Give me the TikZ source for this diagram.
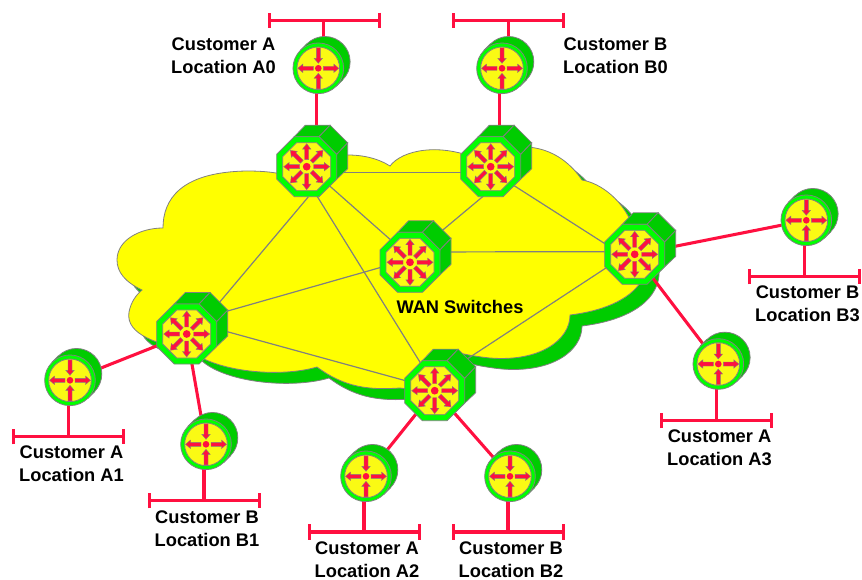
\documentclass[tikz,border=0pt]{standalone}
\usepackage{fontspec}
\setmainfont{Liberation Sans}
\usetikzlibrary{arrows.meta}
\definecolor{wanyellow}{HTML}{FFFF00}
\definecolor{padyellow}{HTML}{FAFA14}
\definecolor{bodygreen}{HTML}{00CC00}
\definecolor{ringgreen}{HTML}{00FF00}
\definecolor{linkred}{HTML}{FF1040}
\definecolor{edgegray}{HTML}{808080}
\newcommand{\cloudoutline}{
  (163,228) .. controls (163,200) and (180,172) .. (247,171)
  .. controls (262,171) and (275,172) .. (290,176)
  .. controls (320,150) and (365,150) .. (390,166)
  .. controls (402,150) and (440,142) .. (480,160)
  .. controls (510,140) and (555,140) .. (582,180)
  .. controls (600,183) and (625,200) .. (635,232)
  .. controls (660,260) and (650,305) .. (570,315)
  .. controls (570,340) and (540,362) .. (490,358)
  .. controls (470,356) and (455,352) .. (445,350)
  .. controls (445,375) and (420,392) .. (400,388)
  .. controls (370,390) and (345,388) .. (317,367)
  .. controls (280,378) and (215,372) .. (190,350)
  .. controls (160,345) and (125,335) .. (129,312)
  .. controls (131,302) and (136,295) .. (142,290)
  .. controls (125,282) and (117,272) .. (117,260)
  .. controls (117,240) and (140,228) .. (163,228) -- cycle}
\newcommand{\outarrow}[1]{\filldraw[glyph,rotate=#1] (7,-2) -- (17.5,-2) -- (17.5,-4.2) -- (23,0) -- (17.5,4.2) -- (17.5,2) -- (7,2) -- cycle;}
\newcommand{\smalloutarrow}[1]{\filldraw[glyph,rotate=#1] (5,-2) -- (15.5,-2) -- (15.5,-4.2) -- (20.5,0) -- (15.5,4.2) -- (15.5,2) -- (5,2) -- cycle;}
\newcommand{\smallinarrow}[1]{\filldraw[glyph,rotate=#1] (20.5,-2) -- (10,-2) -- (10,-4.2) -- (5,0) -- (10,4.2) -- (10,2) -- (20.5,2) -- cycle;}
\begin{document}
\begin{tikzpicture}[
            x=0.75pt, y=-0.75pt,
            hub/.style={
                circle,
                draw=none,
                inner sep=0pt,
                minimum size=45pt
            },
            site/.style={
                circle,
                draw=none,
                inner sep=0pt,
                minimum size=38pt
            },
            label/.style={
                align=center,
                inner sep=0pt,
                font=\fontsize{13.7}{17.25}\selectfont\bfseries
            },
            mesh/.style={draw=edgegray, line width=0.9pt},
            access/.style={draw=linkred, line width=2.3pt},
            busbar/.style={draw=linkred, line width=2.3pt, {Bar[width=11.5pt,line width=2pt]}-{Bar[width=11.5pt,line width=2pt]}},
            face/.style={fill=bodygreen, draw=edgegray, line width=0.6pt},
            glyph/.style={fill=linkred, draw=edgegray, line width=0.3pt},
            pics/wanswitch/.style={code={
                % extruded faces
                \filldraw[face] (-12.4,-30) -- (-1.4,-41.5) -- (23.4,-41.5) -- (12.4,-30) -- cycle;
                \filldraw[face] (12.4,-30) -- (23.4,-41.5) -- (41,-23.9) -- (30,-12.4) -- cycle;
                \filldraw[face] (30,-12.4) -- (41,-23.9) -- (41,2) -- (22,20) -- cycle;
                % front plate
                \filldraw[fill=ringgreen, draw=edgegray, line width=0.6pt] (-12.4,-30) -- (12.4,-30) -- (30,-12.4) -- (30,12.4) -- (12.4,30) -- (-12.4,30) -- (-30,12.4) -- (-30,-12.4) -- cycle;
                \filldraw[fill=padyellow, draw=edgegray, line width=0.6pt] (-10,-24) -- (10,-24) -- (24,-10) -- (24,10) -- (10,24) -- (-10,24) -- (-24,10) -- (-24,-10) -- cycle;
                % arrows
                \outarrow{0} \outarrow{45} \outarrow{90} \outarrow{135}
                \outarrow{180} \outarrow{225} \outarrow{270} \outarrow{315}
                \fill[linkred] (0,0) circle (2.9pt);
            }},
            pics/custrouter/.style={code={
                % cylinder body
                \filldraw[face] (6.5,-6.5) circle (19pt);
                \fill[bodygreen] (-18,-18) -- (-11.5,-24.5) -- (24.5,11.5) -- (18,18) -- cycle;
                \draw[edgegray, line width=0.6pt] (-18,-18) -- (-11.5,-24.5) (24.5,11.5) -- (18,18);
                % front plate
                \filldraw[fill=ringgreen, draw=edgegray, line width=0.6pt] (0,0) circle (19pt);
                \filldraw[fill=padyellow, draw=edgegray, line width=0.6pt] (0,0) circle (16pt);
                % arrows
                \smalloutarrow{0} \smalloutarrow{180}
                \smallinarrow{90} \smallinarrow{270}
                \fill[linkred] (0,0) circle (2.5pt);
            }}
        ]
        \useasboundingbox (0,0) rectangle (862,580);

        % Cloud with its shadow
        \filldraw[fill=bodygreen, draw=edgegray, line width=0.6pt, shift={(12,11)}] \cloudoutline;
        \filldraw[fill=wanyellow, draw=edgegray, line width=0.6pt] \cloudoutline;

        % WAN switch anchors
        \node[hub] (s1) at (306.7,166.7) {};
        \node[hub] (s2) at (490.7,166.7) {};
        \node[hub] (s3) at (410,262.3) {};
        \node[hub] (s4) at (634.7,254.3) {};
        \node[hub] (s5) at (186.7,334) {};
        \node[hub] (s6) at (434.7,390.7) {};

        % Customer router anchors
        \node[site] (a0) at (318.3,68.3) {};
        \node[site] (b0) at (502,68.3) {};
        \node[site] (a1) at (70,380.3) {};
        \node[site] (b1) at (206,444.3) {};
        \node[site] (a2) at (366,476.3) {};
        \node[site] (b2) at (510,476.3) {};
        \node[site] (a3) at (718.3,364) {};
        \node[site] (b3) at (806.3,220.3) {};

        % Mesh between the switches
        \draw[mesh] (s1.-11.5) -- (s2.191.5);
        \draw[mesh] (s1.-87.5) -- (s5.41);
        \draw[mesh] (s1.-71) -- (s6.117);
        \draw[mesh] (s1.-40) -- (s3.131);
        \draw[mesh] (s2.-104) -- (s3.47);
        \draw[mesh] (s2.-39) -- (s4.161.5);
        \draw[mesh] (s3.20) -- (s4.175.6);
        \draw[mesh] (s3.190.8) -- (s5.37);
        \draw[mesh] (s4.205.6) -- (s6.50.6);
        \draw[mesh] (s5.10) -- (s6.161);

        % Access links
        \draw[access] ([xshift=-1.7pt]a0.center) -- ([xshift=-1.7pt]a0.center |- s1.north);
        \draw[access] ([xshift=-1.7pt]b0.center) -- ([xshift=-1.7pt]b0.center |- s2.north);
        \draw[access] (s5) -- (a1);
        \draw[access] (s5) -- (b1);
        \draw[access] (s6) -- (a2);
        \draw[access] (s6) -- (b2);
        \draw[access] (s4) -- (a3);
        \draw[access] (s4) -- (b3);

        % Customer buses
        \coordinate (a0l) at (268,20.3);
        \coordinate (a0r) at (381,20.3);
        \coordinate (b0l) at (452,20.3);
        \coordinate (b0r) at (565,20.3);
        \coordinate (a1l) at (12,436.7);
        \coordinate (a1r) at (124.5,436.7);
        \coordinate (b1l) at (148,500.7);
        \coordinate (b1r) at (260.5,500.7);
        \coordinate (a2l) at (308,532);
        \coordinate (a2r) at (421,532);
        \coordinate (b2l) at (452,532);
        \coordinate (b2r) at (565,532);
        \coordinate (a3l) at (660,420.7);
        \coordinate (a3r) at (773,420.7);
        \coordinate (b3l) at (748,276.7);
        \coordinate (b3r) at (861,276.7);
        \draw[busbar] (a0l) -- (a0r);
        \draw[busbar] (b0l) -- (b0r);
        \draw[busbar] (a1l) -- (a1r);
        \draw[busbar] (b1l) -- (b1r);
        \draw[busbar] (a2l) -- (a2r);
        \draw[busbar] (b2l) -- (b2r);
        \draw[busbar] (a3l) -- (a3r);
        \draw[busbar] (b3l) -- (b3r);

        % Stems from routers to buses
        \draw[access] ([xshift=4.2pt]a0.center) -- ([xshift=4.2pt]a0.center |- a0l);
        \draw[access] ([xshift=4.7pt]b0.center) -- ([xshift=4.7pt]b0.center |- b0l);
        \draw[access] ([xshift=-1.2pt]a1.center) -- ([xshift=-1.2pt]a1.center |- a1l);
        \draw[access] ([xshift=-1.5pt]b1.center) -- ([xshift=-1.5pt]b1.center |- b1l);
        \draw[access] ([xshift=-1.5pt]a2.center) -- ([xshift=-1.5pt]a2.center |- a2l);
        \draw[access] ([xshift=-1.5pt]b2.center) -- ([xshift=-1.5pt]b2.center |- b2l);
        \draw[access] ([xshift=-1.2pt]a3.center) -- ([xshift=-1.2pt]a3.center |- a3l);
        \draw[access] ([xshift=-1.2pt]b3.center) -- ([xshift=-1.2pt]b3.center |- b3l);

        % Switch and router glyphs
        \pic at (s1) {wanswitch};
        \pic at (s2) {wanswitch};
        \pic at (s3) {wanswitch};
        \pic at (s5) {wanswitch};
        \pic at (s6) {wanswitch};
        \pic at (s4) {wanswitch};
        \pic at (a0) {custrouter};
        \pic at (b0) {custrouter};
        \pic at (a1) {custrouter};
        \pic at (b1) {custrouter};
        \pic at (a2) {custrouter};
        \pic at (b2) {custrouter};
        \pic at (a3) {custrouter};
        \pic at (b3) {custrouter};

        % Labels
        \node[label] (wan) at (460,307) {WAN Switches};
        \node[label] (la0) at (223.5,55.5) {Customer A\\Location A0};
        \node[label] (lb0) at (615.5,55.5) {Customer B\\Location B0};
        \node[label] (la1) at (71.5,464) {Customer A\\Location A1};
        \node[label] (lb1) at (207,529) {Customer B\\Location B1};
        \node[label] (la2) at (367,560) {Customer A\\Location A2};
        \node[label] (lb2) at (511,560) {Customer B\\Location B2};
        \node[label] (la3) at (719.5,448) {Customer A\\Location A3};
        \node[label] (lb3) at (807.5,304) {Customer B\\Location B3};

        \end{tikzpicture}
\end{document}
